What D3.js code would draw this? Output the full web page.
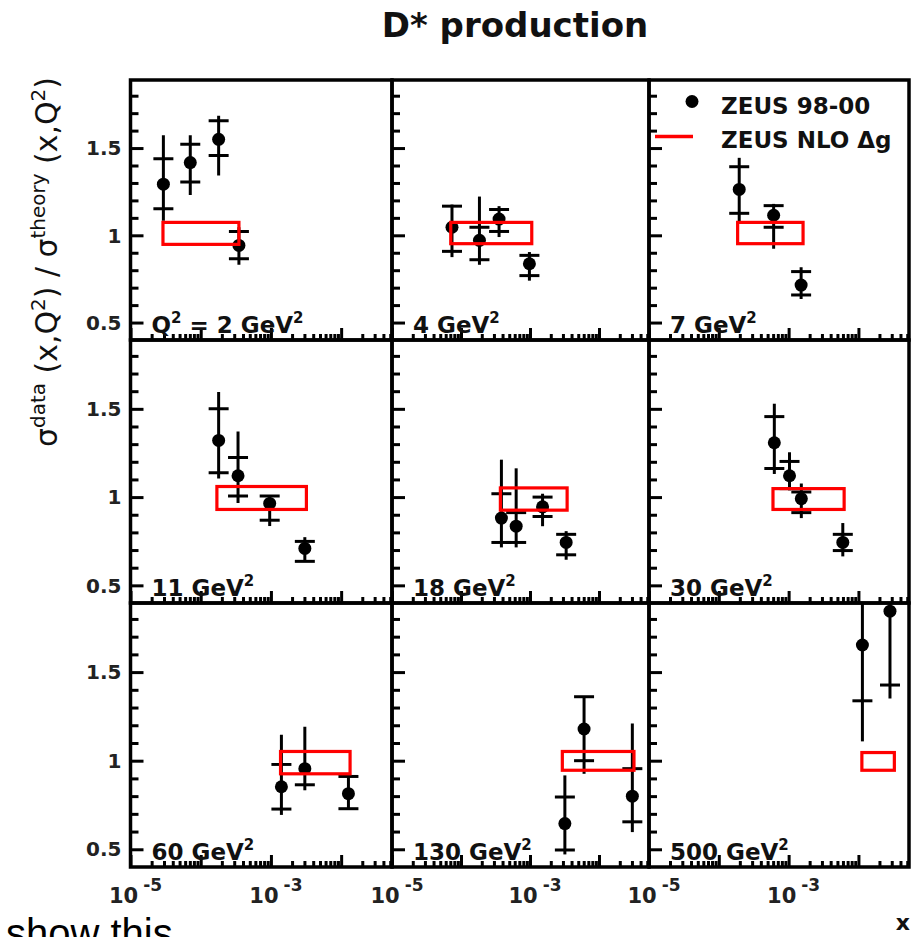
<!DOCTYPE html>
<html>
<head>
<meta charset="utf-8">
<script src="https://cdn.jsdelivr.net/npm/d3@7"></script>
<style>
  body { margin: 0; background: #fff; }
  svg { display: block; }
</style>
</head>
<body>
<svg id="chart" width="916" height="937"></svg>
<script>
// ---- data: ratio of measured D* cross section to NLO prediction, per Q^2 bin ----
const q2Values = ["2", "4", "7", "11", "18", "30", "60", "130", "500"];

const xVals = [
  [2.94e-5, 7.1e-5, 1.8e-4, 3.5e-4],
  [7.4e-5, 1.85e-4, 3.56e-4, 9.8e-4],
  [1.96e-4, 6.1e-4, 1.51e-3],
  [1.8e-4, 3.4e-4, 9.6e-4, 3.04e-3],
  [3.85e-4, 6.3e-4, 1.52e-3, 3.34e-3],
  [6.24e-4, 1.03e-3, 1.52e-3, 5.97e-3],
  [1.41e-3, 3.04e-3, 1.27e-2],
  [3.2e-3, 6.07e-3, 3.04e-2],
  [1.14e-2, 2.83e-2]
];
const ratio = [
  [1.293, 1.417, 1.55, 0.942],
  [1.046, 0.971, 1.093, 0.837],
  [1.263, 1.115, 0.715],
  [1.321, 1.121, 0.964, 0.709],
  [0.881, 0.835, 0.945, 0.743],
  [1.308, 1.121, 0.991, 0.743],
  [0.853, 0.955, 0.814],
  [0.645, 1.179, 0.80],
  [1.653, 1.844]
];
// statistical error band edges (inner ticks)
const statLo = [
  [1.152, 1.306, 1.457, 0.865],
  [0.908, 0.86, 1.022, 0.769],
  [1.126, 1.046, 0.658],
  [1.138, 1.006, 0.869, 0.636],
  [0.743, 0.743, 0.89, 0.673],
  [1.162, 1.048, 0.912, 0.697],
  [0.727, 0.864, 0.729],
  [0.496, 1.0, 0.655],
  [1.338, 1.427]
];
const statHi = [
  [1.439, 1.522, 1.656, 1.022],
  [1.167, 1.046, 1.148, 0.885],
  [1.393, 1.17, 0.792],
  [1.5, 1.225, 1.006, 0.749],
  [1.019, 0.912, 1.0, 0.789],
  [1.456, 1.202, 1.029, 0.789],
  [0.979, 1.052, 0.911],
  [0.795, 1.361, 0.955],
  [1.968, 2.26]
];
// total (stat + syst) error edges
const totLo = [
  [1.083, 1.231, 1.343, 0.831],
  [0.875, 0.831, 0.99, 0.74],
  [1.074, 0.923, 0.635],
  [1.106, 0.967, 0.836, 0.636],
  [0.715, 0.715, 0.835, 0.645],
  [1.131, 1.038, 0.881, 0.664],
  [0.694, 0.833, 0.723],
  [0.471, 0.926, 0.597],
  [1.109, 1.351]
];
const totHi = [
  [1.574, 1.574, 1.685, 1.046],
  [1.176, 1.222, 1.167, 0.904],
  [1.444, 1.18, 0.817],
  [1.596, 1.371, 1.006, 0.773],
  [1.212, 1.163, 1.019, 0.807],
  [1.529, 1.254, 1.077, 0.853],
  [1.147, 1.191, 0.917],
  [0.917, 1.361, 1.21],
  [2.2, 2.34]
];
// NLO uncertainty boxes
const nloXLo = [2.9e-5, 7.1e-5, 1.86e-4, 1.7e-4, 3.72e-4, 5.97e-4, 1.37e-3, 2.94e-3, 1.12e-2];
const nloXHi = [3.5e-4, 1.06e-3, 1.61e-3, 3.2e-3, 3.45e-3, 6.24e-3, 1.34e-2, 3.21e-2, 3.27e-2];
const nloLo = [0.948, 0.952, 0.952, 0.93, 0.926, 0.93, 0.926, 0.946, 0.946];
const nloHi = [1.074, 1.074, 1.074, 1.06, 1.052, 1.048, 1.052, 1.052, 1.046];

// axis ticks
const yMajor = [0.5, 1, 1.5];
const yMinor = [0.6, 0.7, 0.8, 0.9, 1.1, 1.2, 1.3, 1.4, 1.6, 1.7, 1.8];
const yTickLabels = ["0.5", "1", "1.5"];
const xMajor = [1e-5, 1e-4, 1e-3, 1e-2];
const xLabelled = [1e-5, 1e-3];
const xLabelExp = ["-5", "-3"];

const legendLabels = ["ZEUS 98-00", "ZEUS NLO \u0394g"];

// ---- layout ----
const colEdges = [130.5, 392, 649, 909];
const rowEdges = [80, 340, 603, 867];
const xDomain = [1e-5, 0.053];
const yDomain = [0.4, 1.89];

const BOLD = "'DejaVu Sans', sans-serif";
const svg = d3.select("#chart");
const defs = svg.append("defs");

const xMinor = [];
for (let e = -5; e <= -2; e++) {
  for (let k = 2; k <= 9; k++) {
    const v = k * Math.pow(10, e);
    if (v < xDomain[1]) xMinor.push(v);
  }
}

for (let p = 0; p < 9; p++) {
  const col = p % 3, row = Math.floor(p / 3);
  const x0 = colEdges[col], x1 = colEdges[col + 1];
  const y0 = rowEdges[row], y1 = rowEdges[row + 1];
  const x = d3.scaleLog().domain(xDomain).range([x0, x1]);
  const y = d3.scaleLinear().domain(yDomain).range([y1, y0]);

  const clipId = "clip" + p;
  defs.append("clipPath").attr("id", clipId)
    .append("rect").attr("x", x0).attr("y", y0).attr("width", x1 - x0).attr("height", y1 - y0);

  const g = svg.append("g");
  const plot = g.append("g").attr("clip-path", `url(#${clipId})`);

  // inward ticks on left and bottom axes
  const tickStyle = sel => {
    sel.select(".domain").remove();
    sel.selectAll(".tick line").attr("stroke", "#000").attr("stroke-width", 3);
  };
  g.append("g").attr("transform", `translate(${x0},0)`)
    .call(d3.axisLeft(y).tickValues(yMajor).tickSizeInner(-13).tickSizeOuter(0).tickFormat(""))
    .call(tickStyle);
  g.append("g").attr("transform", `translate(${x0},0)`)
    .call(d3.axisLeft(y).tickValues(yMinor).tickSizeInner(-8).tickSizeOuter(0).tickFormat(""))
    .call(tickStyle);
  g.append("g").attr("transform", `translate(0,${y1})`)
    .call(d3.axisBottom(x).tickValues(xMajor).tickSizeInner(-12).tickSizeOuter(0).tickFormat(""))
    .call(tickStyle);
  g.append("g").attr("transform", `translate(0,${y1})`)
    .call(d3.axisBottom(x).tickValues(xMinor).tickSizeInner(-6).tickSizeOuter(0).tickFormat(""))
    .call(tickStyle);

  // data points with error bars
  const pts = xVals[p].map((xv, i) => ({
    x: xv, v: ratio[p][i], sl: statLo[p][i], sh: statHi[p][i], tl: totLo[p][i], th: totHi[p][i]
  }));
  const pg = plot.selectAll("g.pt").data(pts).join("g").attr("class", "pt");
  pg.append("line")
    .attr("x1", d => x(d.x)).attr("x2", d => x(d.x))
    .attr("y1", d => y(d.tl)).attr("y2", d => y(d.th))
    .attr("stroke", "#000").attr("stroke-width", 3);
  pg.selectAll("line.st").data(d => [{ x: d.x, v: d.sl }, { x: d.x, v: d.sh }]).join("line")
    .attr("class", "st")
    .attr("x1", d => x(d.x) - 10).attr("x2", d => x(d.x) + 10)
    .attr("y1", d => y(d.v)).attr("y2", d => y(d.v))
    .attr("stroke", "#000").attr("stroke-width", 3);
  pg.append("circle")
    .attr("cx", d => x(d.x)).attr("cy", d => y(d.v)).attr("r", 6.5)
    .attr("fill", "#000");

  // NLO box
  plot.append("rect")
    .attr("x", x(nloXLo[p])).attr("y", y(nloHi[p]))
    .attr("width", x(nloXHi[p]) - x(nloXLo[p]))
    .attr("height", y(nloLo[p]) - y(nloHi[p]))
    .attr("fill", "none").attr("stroke", "#ff0000").attr("stroke-width", 3.2);

  // frame
  g.append("rect").attr("x", x0).attr("y", y0).attr("width", x1 - x0).attr("height", y1 - y0)
    .attr("fill", "none").attr("stroke", "#000").attr("stroke-width", 3.5);

  // Q^2 label
  const lab = g.append("text").attr("x", x0 + 21).attr("y", y1 - 7)
    .attr("font-family", BOLD).attr("font-weight", "bold").attr("font-size", 23).attr("fill", "#111");
  if (p === 0) {
    lab.append("tspan").text("Q");
    lab.append("tspan").attr("font-size", 15).attr("dy", -10).text("2");
    lab.append("tspan").attr("dy", 10).text(" = " + q2Values[p] + " GeV");
  } else {
    lab.append("tspan").text(q2Values[p] + " GeV");
  }
  lab.append("tspan").attr("font-size", 15).attr("dy", -10).text("2");

  // y tick labels on the left column
  if (col === 0) {
    g.selectAll("text.yl").data(yMajor).join("text").attr("class", "yl")
      .attr("x", x0 - 9).attr("y", d => y(d)).attr("dy", "0.36em")
      .attr("text-anchor", "end")
      .attr("font-family", BOLD).attr("font-weight", "bold").attr("font-size", 20).attr("fill", "#222")
      .text((d, i) => yTickLabels[i]);
  }
  // x tick labels on the bottom row
  if (row === 2) {
    xLabelled.forEach((v, i) => {
      const t = g.append("text").attr("x", x(v) + 5).attr("y", y1 + 36)
        .attr("text-anchor", "middle")
        .attr("font-family", BOLD).attr("font-weight", "bold").attr("font-size", 21).attr("fill", "#222");
      t.append("tspan").text("10");
      t.append("tspan").attr("font-size", 17).attr("dx", 5).attr("dy", -12).text(xLabelExp[i]);
    });
  }

  // legend in the top-right panel
  if (p === 2) {
    g.append("circle").attr("cx", 692).attr("cy", 101.5).attr("r", 6.5).attr("fill", "#000");
    g.append("line").attr("x1", 655).attr("x2", 693).attr("y1", 136.5).attr("y2", 136.5)
      .attr("stroke", "#ff0000").attr("stroke-width", 3.5);
    legendLabels.forEach((s, i) => {
      g.append("text").attr("x", 721).attr("y", 114 + i * 33.5)
        .attr("font-family", BOLD).attr("font-weight", "bold").attr("font-size", 23).attr("fill", "#111")
        .text(s);
    });
  }
}

// title
svg.append("text").attr("x", 515).attr("y", 37).attr("text-anchor", "middle")
  .attr("font-family", BOLD).attr("font-weight", "bold").attr("font-size", 34).attr("fill", "#111")
  .text("D* production");

// y axis title
const yt = svg.append("text")
  .attr("transform", "translate(57,262) rotate(-90)")
  .attr("text-anchor", "middle")
  .attr("font-family", "'DejaVu Sans', sans-serif").attr("font-size", 30).attr("fill", "#111")
  .attr("textLength", 370).attr("lengthAdjust", "spacingAndGlyphs");
yt.append("tspan").text("\u03c3");
yt.append("tspan").attr("font-size", 20).attr("dy", -12).text("data");
yt.append("tspan").attr("dy", 12).text(" (x,Q");
yt.append("tspan").attr("font-size", 20).attr("dy", -12).text("2");
yt.append("tspan").attr("dy", 12).text(") / \u03c3");
yt.append("tspan").attr("font-size", 20).attr("dy", -12).text("theory");
yt.append("tspan").attr("dy", 12).text(" (x,Q");
yt.append("tspan").attr("font-size", 20).attr("dy", -12).text("2");
yt.append("tspan").attr("dy", 12).text(")");

// x axis title
svg.append("text").attr("x", 910).attr("y", 930).attr("text-anchor", "end")
  .attr("font-family", BOLD).attr("font-weight", "bold").attr("font-size", 22).attr("fill", "#111")
  .text("x");

// caption text running off the bottom edge
svg.append("text").attr("x", 6).attr("y", 947)
  .attr("font-family", "'Liberation Sans', Arial, sans-serif").attr("font-size", 40).attr("fill", "#000")
  .text("show this");
</script>
</body>
</html>
